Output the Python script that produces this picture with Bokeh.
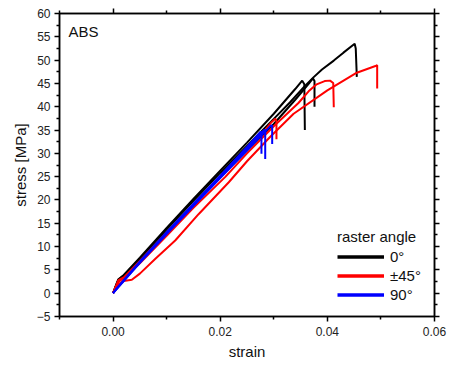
from bokeh.plotting import figure
from bokeh.models import (Range1d, FixedTicker, LinearAxis, Legend, LegendItem,
                          Label, NumeralTickFormatter, CustomLabelingPolicy)
from bokeh.embed import file_html
from bokeh.resources import INLINE

# ---- data (strain, stress [MPa]) ----
black1_x = [0, 0.0005, 0.001, 0.002, 0.005, 0.010, 0.015, 0.020, 0.025, 0.030, 0.034, 0.0353, 0.0357, 0.0358]
black1_y = [0, 1.6, 3.0, 3.9, 7.6, 14.0, 20.2, 26.3, 32.3, 38.5, 43.8, 45.6, 44.8, 35.0]
black2_x = [0, 0.001, 0.002, 0.005, 0.010, 0.015, 0.020, 0.025, 0.030, 0.034, 0.0365, 0.0373, 0.0376, 0.0376]
black2_y = [0, 2.7, 3.5, 7.0, 13.1, 19.0, 24.9, 30.6, 36.3, 41.5, 44.9, 46.1, 45.5, 40.0]
black3_x = [0, 0.001, 0.002, 0.005, 0.010, 0.015, 0.020, 0.025, 0.030, 0.033, 0.0356, 0.0374, 0.039, 0.0412, 0.043, 0.0451, 0.0453, 0.0455]
black3_y = [0, 2.9, 3.8, 7.4, 13.7, 19.8, 25.8, 31.6, 37.4, 40.9, 44.2, 46.3, 48.0, 49.9, 51.6, 53.5, 52.5, 46.4]

red1_x = [0, 0.0005, 0.001, 0.002, 0.0035, 0.005, 0.0079, 0.0116, 0.016, 0.0216, 0.025, 0.0293, 0.0337, 0.040, 0.0455, 0.0491, 0.0493, 0.0493]
red1_y = [0, 1.0, 2.0, 2.6, 2.9, 4.2, 7.4, 11.3, 17.0, 23.8, 28.3, 33.5, 38.5, 43.5, 47.3, 48.8, 48.9, 43.9]
red2_x = [0, 0.001, 0.002, 0.005, 0.010, 0.015, 0.021, 0.025, 0.030, 0.0346, 0.0365, 0.038, 0.0395, 0.0405, 0.0411, 0.0412]
red2_y = [0, 2.5, 3.2, 6.4, 12.3, 18.3, 25.0, 30.0, 35.8, 40.8, 43.3, 44.8, 45.5, 45.6, 45.1, 39.9]
red3_x = [0, 0.001, 0.002, 0.005, 0.010, 0.015, 0.020, 0.025, 0.028, 0.0295, 0.0303, 0.0305, 0.0305]
red3_y = [0, 2.8, 3.4, 6.9, 13.0, 19.0, 24.9, 30.9, 34.4, 36.6, 37.4, 37.0, 33.0]

blue1_x = [0, 0.0005, 0.002, 0.005, 0.010, 0.015, 0.020, 0.025, 0.0275, 0.0277, 0.0277]
blue1_y = [0, 0.8, 2.8, 6.8, 13.1, 19.2, 25.2, 31.4, 34.6, 34.6, 29.9]
blue2_x = [0, 0.002, 0.005, 0.010, 0.015, 0.020, 0.025, 0.0282, 0.0284, 0.0284]
blue2_y = [0, 2.7, 6.6, 12.9, 19.0, 25.0, 31.1, 35.0, 35.0, 28.8]
blue3_x = [0, 0.002, 0.005, 0.010, 0.015, 0.020, 0.025, 0.0295, 0.0297, 0.0297]
blue3_y = [0, 2.6, 6.5, 12.7, 18.7, 24.7, 30.6, 36.0, 35.9, 32.0]

legend_labels = ["0°", "±45°", "90°"]
colors = ["#000000", "#ff0000", "#0000ff"]
x_major = [0, 0.02, 0.04, 0.06]
x_minor = [-0.01, 0.01, 0.03, 0.05]
y_major = list(range(-5, 61, 5))
y_minor = [v + 2.5 for v in range(-10, 61, 5)]

FONT = "Liberation Sans"

p = figure(width=448, height=362, x_range=Range1d(-0.01, 0.06), y_range=Range1d(-5, 60),
           output_backend="svg", toolbar_location=None,
           min_border_left=59, min_border_top=13, min_border_right=14, min_border_bottom=46)
p.xgrid.visible = False
p.ygrid.visible = False
p.outline_line_color = "black"
p.outline_line_width = 1.5

xt = FixedTicker(ticks=x_major, minor_ticks=x_minor)
yt = FixedTicker(ticks=y_major, minor_ticks=y_minor)

def style(ax, label_size="12px"):
    ax.axis_line_color = "black"
    ax.axis_line_width = 1.5
    ax.major_tick_line_color = "black"
    ax.minor_tick_line_color = "black"
    ax.major_tick_line_width = 1.5
    ax.minor_tick_line_width = 1.5
    ax.major_tick_in = 0
    ax.minor_tick_in = 0
    ax.major_tick_out = 5
    ax.minor_tick_out = 3
    ax.major_label_text_font = FONT
    ax.major_label_text_font_size = label_size
    ax.major_label_text_color = "#222222"
    ax.axis_label_text_font = FONT
    ax.axis_label_text_font_size = "15px"
    ax.axis_label_text_font_style = "normal"
    ax.axis_label_text_color = "#111111"

p.xaxis.ticker = xt
p.yaxis.ticker = yt
p.xaxis.formatter = NumeralTickFormatter(format="0.00")
p.xaxis.axis_label = "strain"
p.yaxis.axis_label = "stress [MPa]"
style(p.xaxis[0])
style(p.yaxis[0])
p.xaxis.major_label_standoff = 5
p.yaxis.major_label_standoff = 4
p.xaxis.axis_label_standoff = 4
p.yaxis.axis_label_standoff = 5

top = LinearAxis(ticker=xt, major_label_policy=CustomLabelingPolicy(code="return []"))
style(top, "1px")
top.major_label_standoff = 0
p.add_layout(top, "above")
right = LinearAxis(ticker=yt, major_label_policy=CustomLabelingPolicy(code="return []"))
style(right, "1px")
right.major_label_standoff = 0
p.add_layout(right, "right")

groups = [
    [(black1_x, black1_y), (black2_x, black2_y), (black3_x, black3_y)],
    [(red1_x, red1_y), (red2_x, red2_y), (red3_x, red3_y)],
    [(blue1_x, blue1_y), (blue2_x, blue2_y), (blue3_x, blue3_y)],
]
for grp, c in zip(groups, colors):
    for xs, ys in grp:
        p.line(xs, ys, line_color=c, line_width=2)

# legend proxies: single-point lines (draw nothing in the plot, thick key in legend)
items = []
for lab, c, grp in zip(legend_labels, colors, groups):
    xs, ys = grp[0]
    proxy = p.line(xs[:1], ys[:1], line_color=c, line_width=3.5)
    items.append(LegendItem(label=lab, renderers=[proxy]))

legend = Legend(items=items, location=(278, 13), title="raster angle",
                title_text_font=FONT, title_text_font_size="15px", title_text_font_style="normal",
                title_text_color="#111111", title_standoff=3,
                label_text_font=FONT, label_text_font_size="15px", label_text_color="#111111",
                glyph_width=47, glyph_height=17, label_height=17, label_standoff=6,
                spacing=2, padding=0, margin=0, border_line_color=None,
                background_fill_alpha=0)
p.add_layout(legend, "center")

p.add_layout(Label(x=9, y=294, x_units="screen", y_units="screen", text="ABS",
                   text_font=FONT, text_font_size="15px", text_baseline="top",
                   text_color="#111111"))

open("out.html", "w").write(file_html(p, INLINE))
